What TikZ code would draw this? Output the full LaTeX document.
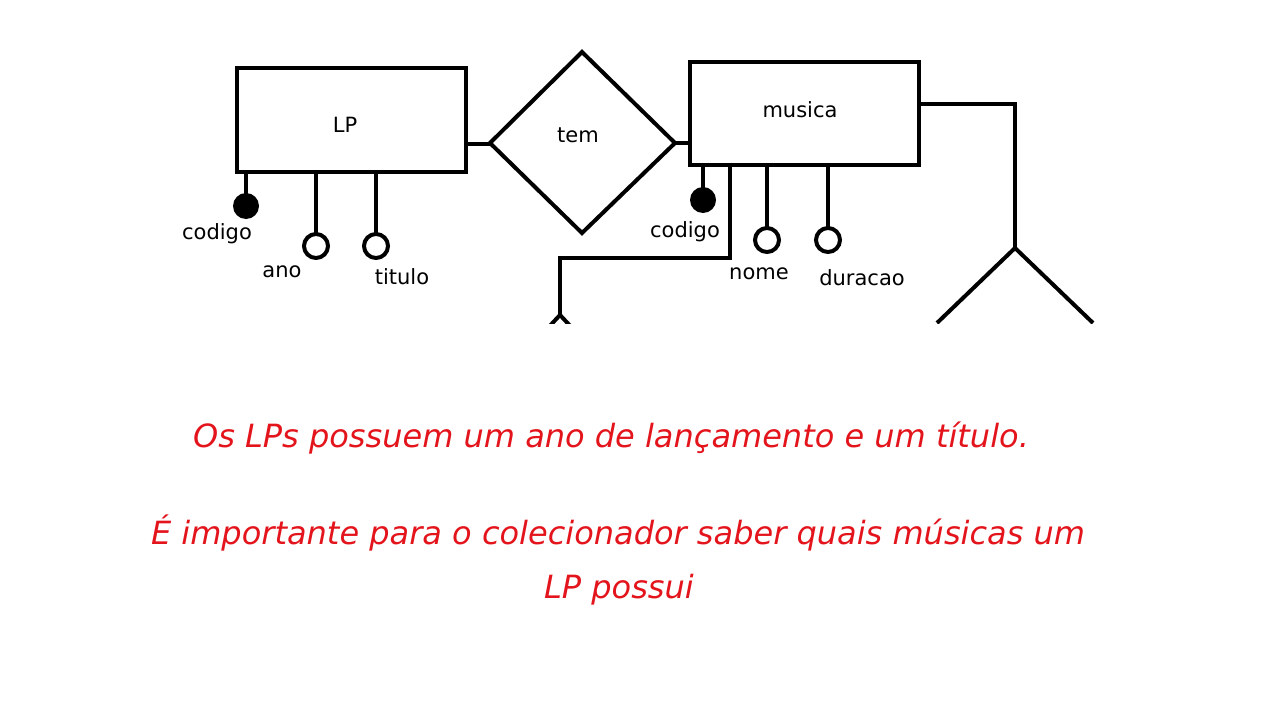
\documentclass[tikz,border=0pt]{standalone}
\usepackage{fontspec}
\setmainfont{DejaVu Sans}
\definecolor{txtred}{HTML}{E3141B}
\begin{document}
\begin{tikzpicture}[x=1pt,y=-1pt,line width=4pt,
  lbl/.style={font=\fontsize{21}{24}\selectfont},
  red/.style={text=txtred,font=\itshape\fontsize{32}{38}\selectfont}]
\useasboundingbox (0,0) rectangle (1280,720);
\begin{scope}
\clip (0,0) rectangle (1280,323);
\draw (237,68) rectangle (466,172);
\node[lbl] (lp) at (345,125) {LP};
\draw (690,62) rectangle (919,165);
\node[lbl] (mus) at (800,110) {musica};
\draw (490,143) -- (582,52) -- (675,143) -- (582,233) -- cycle;
\node[lbl] (tem) at (578,135) {tem};
\draw (466,144) -- (490,144);
\draw (675,143) -- (690,143);
% LP attrs
\draw (246,172) -- (246,194);
\fill (246,206) circle (13);
\draw (316,172) -- (316,234);
\draw (316,246) circle (12);
\draw (376,172) -- (376,234);
\draw (376,246) circle (12);
\node[lbl] (c1) at (217,234) {codigo};
\node[lbl] (a1) at (282,272) {ano};
\node[lbl] (t1) at (402,277) {titulo};
% musica attrs
\draw (703,165) -- (703,188);
\fill (703,200) circle (13);
\draw (767,165) -- (767,228);
\draw (767,240) circle (12);
\draw (828,165) -- (828,228);
\draw (828,240) circle (12);
\node[lbl] (c2) at (685,232) {codigo};
\node[lbl] (n2) at (759,274) {nome};
\node[lbl] (d2) at (862,278) {duracao};
\draw (730,165) -- (730,258) -- (560,258) -- (560,315);
\draw (546,330) -- (560,315) -- (574,330);
\draw (919,104) -- (1015,104) -- (1015,248);
\draw (937,323) -- (1015,248) -- (1093,323);
\end{scope}
\node[red] (r1) at (611,438) {Os LPs possuem um ano de lançamento e um título.};
\node[red] (r2) at (618,533) {É importante para o colecionador saber quais músicas um};
\node[red] (r3) at (619,590) {LP possui};
\end{tikzpicture}
\end{document}
